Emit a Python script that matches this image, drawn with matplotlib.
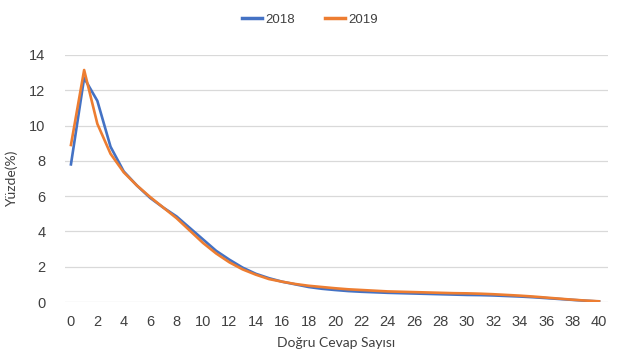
import matplotlib
matplotlib.use("Agg")
import matplotlib.pyplot as plt

x = list(range(0, 41))
y2018 = [7.8, 12.7, 11.4, 8.8, 7.4, 6.6, 5.9, 5.35, 4.85, 4.2, 3.55, 2.9, 2.4, 1.95, 1.6, 1.35,
         1.15, 1.0, 0.85, 0.75, 0.68, 0.62, 0.58, 0.55, 0.52, 0.5, 0.48, 0.46, 0.44, 0.42, 0.4,
         0.39, 0.37, 0.34, 0.31, 0.27, 0.22, 0.17, 0.12, 0.07, 0.03]
y2019 = [8.9, 13.15, 10.1, 8.4, 7.35, 6.6, 5.95, 5.35, 4.75, 4.05, 3.35, 2.75, 2.25, 1.85, 1.55, 1.3,
         1.15, 1.02, 0.92, 0.85, 0.78, 0.72, 0.68, 0.64, 0.6, 0.58, 0.56, 0.54, 0.52, 0.5, 0.49,
         0.47, 0.44, 0.4, 0.36, 0.31, 0.25, 0.19, 0.13, 0.08, 0.04]
series_labels = ["2018", "2019"]
xticks = list(range(0, 41, 2))
yticks = list(range(0, 15, 2))

tickfont = "Liberation Sans"

fig = plt.figure(figsize=(6.36, 3.61), dpi=100)
ax = fig.add_axes([65/636, 1-302/361, (608-65)/636, 247/361])
ax.plot(x, y2018, color="#4472C4", lw=1.9, label=series_labels[0], solid_joinstyle="round")
ax.plot(x, y2019, color="#ED7D31", lw=1.9, label=series_labels[1], solid_joinstyle="round")
ax.set_xlim(-0.45, 40.68)
ax.set_ylim(0, 14)
ax.set_xticks(xticks)
ax.set_yticks(yticks)
ax.grid(axis="y", color="#D9D9D9", lw=0.9)
ax.set_axisbelow(True)
for s in ax.spines.values():
    s.set_visible(False)
ax.tick_params(length=0, labelsize=10.5, colors="#404040")
ax.tick_params(axis="x", pad=9)
ax.tick_params(axis="y", pad=14)
for lab in ax.get_xticklabels() + ax.get_yticklabels():
    lab.set_fontfamily(tickfont)
ax.set_xlabel("Doğru Cevap Sayısı", fontsize=10, color="#404040", family="Lato", labelpad=6)
ax.set_ylabel("Yüzde(%)", fontsize=10, color="#404040", family="Lato", labelpad=8)
leg = fig.legend(loc="upper center", bbox_to_anchor=(0.487, 0.995), ncol=2, frameon=False,
                 handlelength=1.5, columnspacing=2.3, handletextpad=0.25,
                 prop={"family": tickfont, "size": 9.5})
for t in leg.get_texts():
    t.set_color("#404040")
for h in leg.get_lines():
    h.set_linewidth(2.5)
fig.savefig("out.png", dpi=100)
